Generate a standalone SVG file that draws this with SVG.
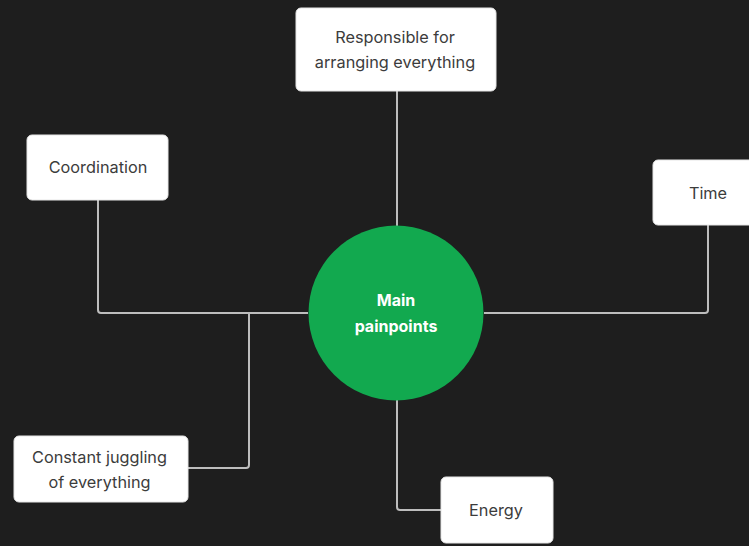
<svg xmlns="http://www.w3.org/2000/svg" width="749" height="546" viewBox="0 0 749 546">
  <style>
    .box { fill: #ffffff; stroke: #e6e6e6; stroke-width: 1; }
    .label { font-family: Inter, "Noto Sans", "Liberation Sans", sans-serif; font-size: 16.3px; fill: #3c3c3c; text-anchor: middle; }
    .hub { font-family: Inter, "Noto Sans", "Liberation Sans", sans-serif; font-size: 16px; font-weight: 700; fill: #ffffff; text-anchor: middle; }
    .wire { fill: none; stroke: #bdbdbd; stroke-width: 2; stroke-linejoin: round; }
  </style>
  <rect width="749" height="546" fill="#1e1e1e"/>

  <g id="connectors">
    <path class="wire" d="M397 91 V226"/>
    <path class="wire" d="M98 200 V310 Q98 313 101 313 H308"/>
    <path class="wire" d="M708 225 V310 Q708 313 705 313 H484"/>
    <path class="wire" d="M249 313 V465 Q249 468 246 468 H188"/>
    <path class="wire" d="M397 400 V507 Q397 510 400 510 H441"/>
  </g>

  <g id="hub">
    <circle cx="396" cy="313" r="87.5" fill="#12a94f"/>
    <text class="hub" x="396" y="306">Main</text>
    <text class="hub" x="396" y="332">painpoints</text>
  </g>

  <g id="node-responsible">
    <rect class="box" x="296" y="8" width="200" height="83" rx="5"/>
    <text class="label" x="395" y="43">Responsible for</text>
    <text class="label" x="395" y="68">arranging everything</text>
  </g>

  <g id="node-coordination">
    <rect class="box" x="27" y="135" width="141" height="65" rx="5"/>
    <text class="label" x="98" y="173">Coordination</text>
  </g>

  <g id="node-time">
    <rect class="box" x="653" y="160" width="110" height="65" rx="5"/>
    <text class="label" x="708" y="199">Time</text>
  </g>

  <g id="node-juggling">
    <rect class="box" x="14" y="436" width="174" height="66" rx="5"/>
    <text class="label" x="99.5" y="463">Constant juggling</text>
    <text class="label" x="99.5" y="488">of everything</text>
  </g>

  <g id="node-energy">
    <rect class="box" x="441" y="477" width="112" height="66" rx="5"/>
    <text class="label" x="496" y="516">Energy</text>
  </g>
</svg>
